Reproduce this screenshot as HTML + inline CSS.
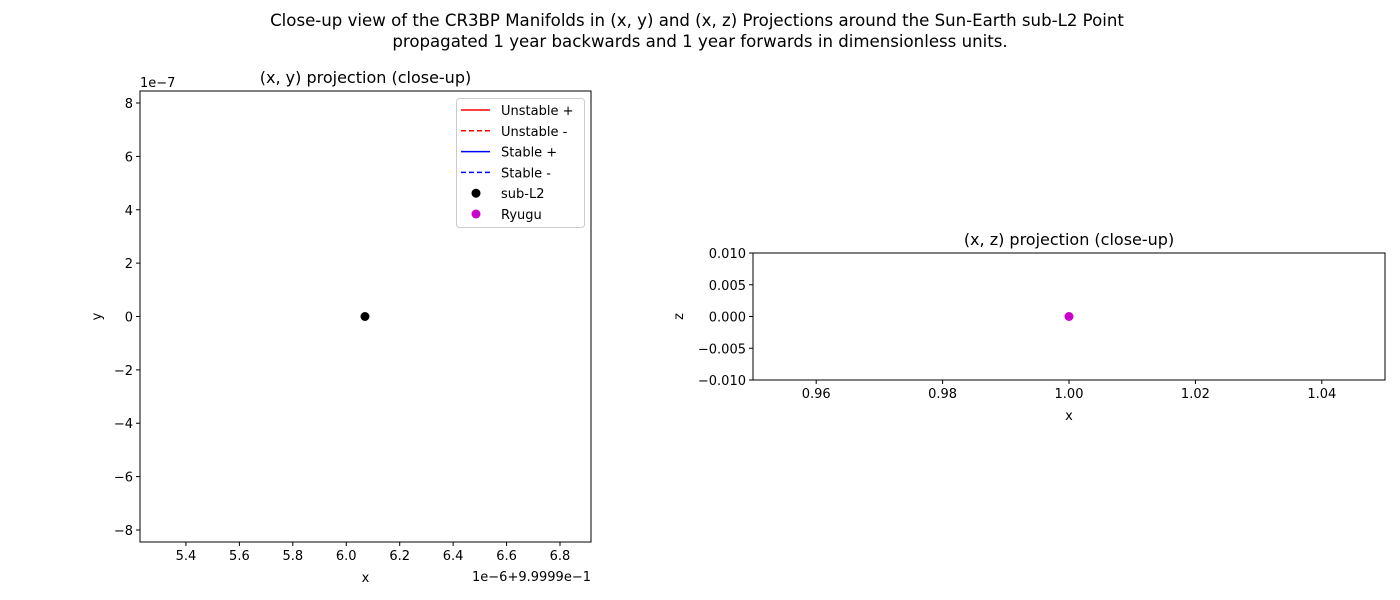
<!DOCTYPE html>
<html><head><meta charset="utf-8"><style>
body{margin:0;background:#fff}
svg{display:block;font-family:"DejaVu Sans","Liberation Sans",sans-serif}
</style></head><body>
<svg id="chart" width="1400" height="600" xmlns="http://www.w3.org/2000/svg">
<text x="697" y="26" text-anchor="middle" font-size="16.6">Close-up view of the CR3BP Manifolds in (x, y) and (x, z) Projections around the Sun-Earth sub-L2 Point</text>
<text x="700" y="47" text-anchor="middle" font-size="16.6">propagated 1 year backwards and 1 year forwards in dimensionless units.</text>
<g id="left"></g>
<g id="right"></g>
</svg>
<script>
const xyXTicks=[5.4,5.6,5.8,6.0,6.2,6.4,6.6,6.8];
const xyYTicks=[-8,-6,-4,-2,0,2,4,6,8];
const xzXTicks=[0.96,0.98,1.00,1.02,1.04];
const xzYTicks=[-0.010,-0.005,0.000,0.005,0.010];
const subL2=[6.07,0];
const ryugu=[1.0,0.0];
const legendLabels=["Unstable +","Unstable -","Stable +","Stable -","sub-L2","Ryugu"];
const NS="http://www.w3.org/2000/svg";
function mk(p,t,a){const e=document.createElementNS(NS,t);for(const k in a)e.setAttribute(k,a[k]);p.appendChild(e);return e;}
function minus(s){return s.replace('-','\u2212');}
function panel(g,L,T,R,B,xmin,xmax,ymin,ymax,xt,yt,xf,yf,title,xl,yl){
  const sx=v=>L+(v-xmin)/(xmax-xmin)*(R-L), sy=v=>B-(v-ymin)/(ymax-ymin)*(B-T);
  let r=mk(g,'rect',{x:L,y:T,width:R-L,height:B-T,fill:'none',stroke:'#000','stroke-width':1});
  
  
  xt.forEach(v=>{const x=sx(v);mk(g,'line',{x1:x,x2:x,y1:B,y2:B+4,stroke:'#000'});
    const t=mk(g,'text',{x:x,y:B+18,'text-anchor':'middle','font-size':13});t.textContent=minus(xf(v));
    
    });
  yt.forEach(v=>{const y=sy(v);mk(g,'line',{x1:L-4,x2:L,y1:y,y2:y,stroke:'#000'});
    const t=mk(g,'text',{x:L-7,y:y+5,'text-anchor':'end','font-size':13});t.textContent=minus(yf(v));
    
    });
  let t=mk(g,'text',{x:(L+R)/2,y:T-8,'text-anchor':'middle','font-size':16});t.textContent=title;
  
  
  t=mk(g,'text',{x:(L+R)/2,y:B+40,'text-anchor':'middle','font-size':13});t.textContent=xl;
  
  
  t=mk(g,'text',{x:0,y:0,'text-anchor':'middle','font-size':13,transform:`translate(${yl[1]},${(T+B)/2}) rotate(-90)`});t.textContent=yl[0];
  
  
  return [sx,sy];
}
const gl=document.getElementById('left'), gr=document.getElementById('right');
const [lx,ly]=panel(gl,140,91,591,542,5.228,6.916,-8.45,8.45,xyXTicks,xyYTicks,v=>v.toFixed(1),v=>String(v),'(x, y) projection (close-up)','x',['y',101]);
let t=mk(gl,'text',{x:140,y:87,'font-size':13});t.textContent='1e\u22127';


t=mk(gl,'text',{x:591,y:581,'text-anchor':'end','font-size':13});t.textContent='1e\u22126+9.9999e\u22121';


let c=mk(gl,'circle',{cx:lx(subL2[0]),cy:ly(subL2[1]),r:4.5,fill:'#000'});


const lg=mk(gl,'g',{});


mk(lg,'rect',{x:456.5,y:98.5,width:128,height:129,rx:3,fill:'#fff',stroke:'#ccc'});
const styles=[['red',''],['red','5,3'],['blue',''],['blue','5,3'],['#000','dot'],['#c0c','dot']];
legendLabels.forEach((lab,i)=>{const y=110+i*20.8;const [col,d]=styles[i];
  const e=mk(lg,'g',{});
  
  
  if(d==='dot')mk(e,'circle',{cx:476,cy:y,r:4.5,fill:col});
  else mk(e,'line',{x1:461,x2:490,y1:y,y2:y,stroke:col,'stroke-width':1.5,'stroke-dasharray':d||'none'});
  const tx=mk(e,'text',{x:501,y:y+5,'font-size':13});tx.textContent=lab;});
const [rx,ry]=panel(gr,753,253,1385,380,0.95,1.05,-0.01,0.01,xzXTicks,xzYTicks,v=>v.toFixed(2),v=>v.toFixed(3),'(x, z) projection (close-up)','x',['z',683]);
c=mk(gr,'circle',{cx:rx(ryugu[0]),cy:ry(ryugu[1]),r:4.5,fill:'#c0c'});


</script>
</body></html>
